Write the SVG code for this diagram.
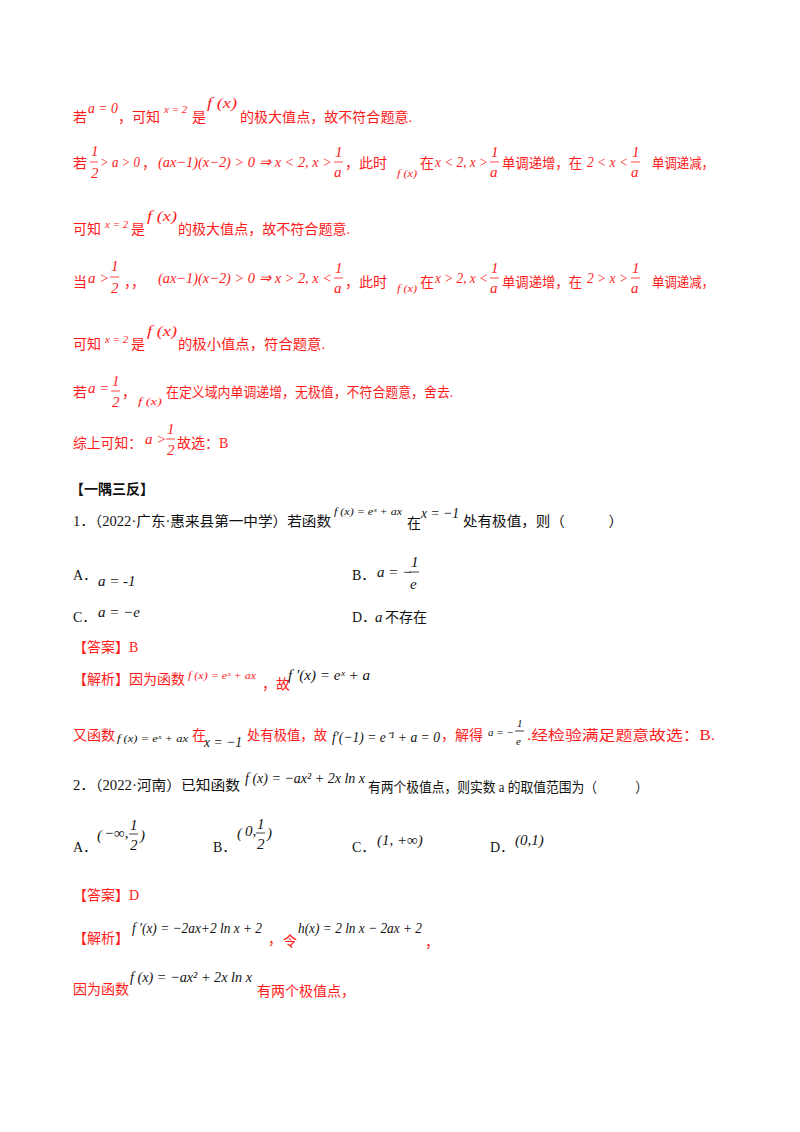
<svg xmlns="http://www.w3.org/2000/svg" width="800" height="1132" viewBox="0 0 800 1132">
<style>
text{font-family:"Liberation Serif","Noto Sans CJK SC",serif;font-size:14px}
.r{fill:#ff1a1a}
.k{fill:#111}
.m{font-family:"Liberation Serif",serif;font-style:italic;font-size:15px}
.s{font-size:11px}
.b{font-weight:bold}
line{stroke-width:0.8}
.rl{stroke:#ff1a1a}
</style>
<rect width="800" height="1132" fill="#fff"/>
<g id="l1" class="r">
<text x="73" y="122">若</text><text x="88" y="113" class="m" textLength="30" lengthAdjust="spacingAndGlyphs">a = 0</text>
<text x="118" y="122">，可知</text><text x="164" y="113" class="m s">x = 2</text>
<text x="192" y="122">是</text><text x="207" y="108" class="m" textLength="30" lengthAdjust="spacingAndGlyphs">f (x)</text>
<text x="240" y="122" textLength="172" lengthAdjust="spacingAndGlyphs">的极大值点，故不符合题意.</text>
</g>
<g id="l2" class="r">
<text x="73" y="168">若</text><text x="91" y="156" class="m">1</text><line class="rl" x1="90" y1="162" x2="98" y2="162"/><text x="91" y="178" class="m">2</text>
<text x="100" y="167" class="m" textLength="40" lengthAdjust="spacingAndGlyphs">&gt; a &gt; 0</text><text x="142" y="168">，</text>
<text x="158" y="167" class="m" textLength="174" lengthAdjust="spacingAndGlyphs">(ax−1)(x−2) &gt; 0 ⇒ x &lt; 2, x &gt;</text>
<text x="335" y="157" class="m">1</text><line class="rl" x1="334" y1="162" x2="343" y2="162"/><text x="334" y="177" class="m">a</text>
<text x="345" y="168">，此时</text><text x="397" y="177" class="m s" textLength="20" lengthAdjust="spacingAndGlyphs">f (x)</text><text x="420" y="168">在</text>
<text x="435" y="167" class="m" textLength="53" lengthAdjust="spacingAndGlyphs">x &lt; 2, x &gt;</text>
<text x="491" y="157" class="m">1</text><line class="rl" x1="490" y1="162" x2="499" y2="162"/><text x="490" y="177" class="m">a</text>
<text x="502" y="168" textLength="80" lengthAdjust="spacingAndGlyphs">单调递增，在</text>
<text x="587" y="167" class="m" textLength="41" lengthAdjust="spacingAndGlyphs">2 &lt; x &lt;</text>
<text x="632" y="157" class="m">1</text><line class="rl" x1="631" y1="162" x2="640" y2="162"/><text x="631" y="177" class="m">a</text>
<text x="652" y="168" textLength="62" lengthAdjust="spacingAndGlyphs">单调递减，</text>
</g>
<g id="l3" class="r">
<text x="73" y="234">可知</text><text x="105" y="228" class="m s">x = 2</text><text x="131" y="234">是</text>
<text x="147" y="221" class="m" textLength="30" lengthAdjust="spacingAndGlyphs">f (x)</text>
<text x="178" y="234" textLength="172" lengthAdjust="spacingAndGlyphs">的极大值点，故不符合题意.</text>
</g>
<g id="l4" class="r">
<text x="73" y="287">当</text><text x="88" y="283" class="m">a &gt;</text>
<text x="111" y="271" class="m">1</text><line class="rl" x1="110" y1="277" x2="119" y2="277"/><text x="111" y="293" class="m">2</text>
<text x="124" y="287">，，</text>
<text x="158" y="283" class="m" textLength="174" lengthAdjust="spacingAndGlyphs">(ax−1)(x−2) &gt; 0 ⇒ x &gt; 2, x &lt;</text>
<text x="335" y="273" class="m">1</text><line class="rl" x1="334" y1="278" x2="343" y2="278"/><text x="334" y="293" class="m">a</text>
<text x="345" y="287">，此时</text><text x="397" y="292" class="m s" textLength="20" lengthAdjust="spacingAndGlyphs">f (x)</text><text x="420" y="287">在</text>
<text x="435" y="283" class="m" textLength="53" lengthAdjust="spacingAndGlyphs">x &gt; 2, x &lt;</text>
<text x="491" y="273" class="m">1</text><line class="rl" x1="490" y1="278" x2="499" y2="278"/><text x="490" y="293" class="m">a</text>
<text x="502" y="287" textLength="80" lengthAdjust="spacingAndGlyphs">单调递增，在</text>
<text x="587" y="283" class="m" textLength="41" lengthAdjust="spacingAndGlyphs">2 &gt; x &gt;</text>
<text x="632" y="273" class="m">1</text><line class="rl" x1="631" y1="278" x2="640" y2="278"/><text x="631" y="293" class="m">a</text>
<text x="652" y="287" textLength="62" lengthAdjust="spacingAndGlyphs">单调递减，</text>
</g>
<g id="l5" class="r">
<text x="73" y="349">可知</text><text x="105" y="343" class="m s">x = 2</text><text x="131" y="349">是</text>
<text x="147" y="336" class="m" textLength="30" lengthAdjust="spacingAndGlyphs">f (x)</text>
<text x="178" y="349" textLength="147" lengthAdjust="spacingAndGlyphs">的极小值点，符合题意.</text>
</g>
<g id="l6" class="r">
<text x="73" y="397">若</text><text x="88" y="393" class="m">a =</text>
<text x="112" y="386" class="m">1</text><line class="rl" x1="111" y1="391" x2="120" y2="391"/><text x="112" y="407" class="m">2</text>
<text x="122" y="397">，</text><text x="138" y="405" class="m s" textLength="24" lengthAdjust="spacingAndGlyphs">f (x)</text>
<text x="166" y="397" textLength="287" lengthAdjust="spacingAndGlyphs">在定义域内单调递增，无极值，不符合题意，舍去.</text>
</g>
<g id="l7" class="r">
<text x="73" y="448" textLength="69" lengthAdjust="spacingAndGlyphs">综上可知：</text><text x="145" y="444" class="m">a &gt;</text>
<text x="167" y="434" class="m">1</text><line class="rl" x1="166" y1="439" x2="175" y2="439"/><text x="167" y="455" class="m">2</text>
<text x="177" y="448">故选：B</text>
</g>
<g id="q1" class="k">
<text x="70" y="494" class="b">【一隅三反】</text>
<text x="73" y="526" textLength="258" lengthAdjust="spacingAndGlyphs">1．（2022·广东·惠来县第一中学）若函数</text>
<text x="334" y="515" class="m s" textLength="68" lengthAdjust="spacingAndGlyphs">f (x) = eˣ + ax</text>
<text x="407" y="528">在</text><text x="421" y="518" class="m" textLength="38" lengthAdjust="spacingAndGlyphs">x = −1</text>
<text x="463" y="526" textLength="160" lengthAdjust="spacingAndGlyphs">处有极值，则（　　　）</text>
<text x="73" y="580">A．</text><text x="98" y="586" class="m">a = -1</text>
<text x="352" y="580">B．</text><text x="377" y="577" class="m">a = −</text>
<text x="411" y="567" class="m">1</text><line stroke="#111" x1="409" y1="572" x2="419" y2="572"/><text x="410" y="589" class="m">e</text>
<text x="73" y="622">C．</text><text x="98" y="617" class="m">a = −e</text>
<text x="352" y="622">D．</text><text x="375" y="622" class="m">a</text><text x="385" y="622">不存在</text>
</g>
<g id="a1" class="r">
<text x="73" y="652">【答案】B</text>
<text x="73" y="684">【解析】因为函数</text>
<text x="188" y="679" class="m s" textLength="68" lengthAdjust="spacingAndGlyphs">f (x) = eˣ + ax</text>
<text x="262" y="689">，故</text>
<text x="288" y="680" class="m k" textLength="82" lengthAdjust="spacingAndGlyphs">f ′(x) = eˣ + a</text>
<text x="73" y="740">又函数</text>
<text x="117" y="742" class="m s k" textLength="71" lengthAdjust="spacingAndGlyphs">f (x) = eˣ + ax</text>
<text x="192" y="740">在</text><text x="204" y="747" class="m k" textLength="38" lengthAdjust="spacingAndGlyphs">x = −1</text>
<text x="247" y="740" textLength="80" lengthAdjust="spacingAndGlyphs">处有极值，故</text>
<text x="332" y="742" class="m k" textLength="108" lengthAdjust="spacingAndGlyphs">f′(−1) = e⁻¹ + a = 0</text>
<text x="441" y="740">，解得</text><text x="488" y="736" class="m k s">a = −</text>
<text x="517" y="727" class="m k s">1</text><line stroke="#111" x1="515" y1="731" x2="524" y2="731"/><text x="516" y="745" class="m k s">e</text>
<text x="527" y="740" textLength="188" lengthAdjust="spacingAndGlyphs">.经检验满足题意故选：B.</text>
</g>
<g id="q2" class="k">
<text x="73" y="790" textLength="167" lengthAdjust="spacingAndGlyphs">2．（2022·河南）已知函数</text>
<text x="245" y="783" class="m" textLength="120" lengthAdjust="spacingAndGlyphs">f (x) = −ax² + 2x ln x</text>
<text x="368" y="792" textLength="280" lengthAdjust="spacingAndGlyphs">有两个极值点，则实数 a 的取值范围为（　　　）</text>
<text x="73" y="852">A．</text><text x="97" y="840" class="m" font-size="22">(</text><text x="104" y="838" class="m">−∞,</text>
<text x="130" y="830" class="m">1</text><line stroke="#111" x1="129" y1="834" x2="138" y2="834"/><text x="130" y="850" class="m">2</text><text x="140" y="840" class="m" font-size="22">)</text>
<text x="213" y="852">B．</text><text x="237" y="838" class="m" font-size="22">(</text><text x="245" y="836" class="m">0,</text>
<text x="257" y="829" class="m">1</text><line stroke="#111" x1="256" y1="833" x2="265" y2="833"/><text x="257" y="849" class="m">2</text><text x="267" y="838" class="m" font-size="22">)</text>
<text x="352" y="852">C．</text><text x="377" y="845" class="m">(1, +∞)</text>
<text x="490" y="852">D．</text><text x="515" y="845" class="m">(0,1)</text>
</g>
<g id="a2" class="r">
<text x="73" y="900">【答案】D</text>
<text x="73" y="943">【解析】</text>
<text x="132" y="933" class="m k" textLength="130" lengthAdjust="spacingAndGlyphs">f ′(x) = −2ax+2 ln x + 2</text>
<text x="268" y="944">，</text><text x="283" y="946">令</text>
<text x="298" y="933" class="m k" textLength="124" lengthAdjust="spacingAndGlyphs">h(x) = 2 ln x − 2ax + 2</text>
<text x="425" y="947">，</text>
<text x="73" y="994">因为函数</text>
<text x="130" y="982" class="m k" textLength="122" lengthAdjust="spacingAndGlyphs">f (x) = −ax² + 2x ln x</text>
<text x="257" y="996">有两个极值点，</text>
</g>
</svg>
